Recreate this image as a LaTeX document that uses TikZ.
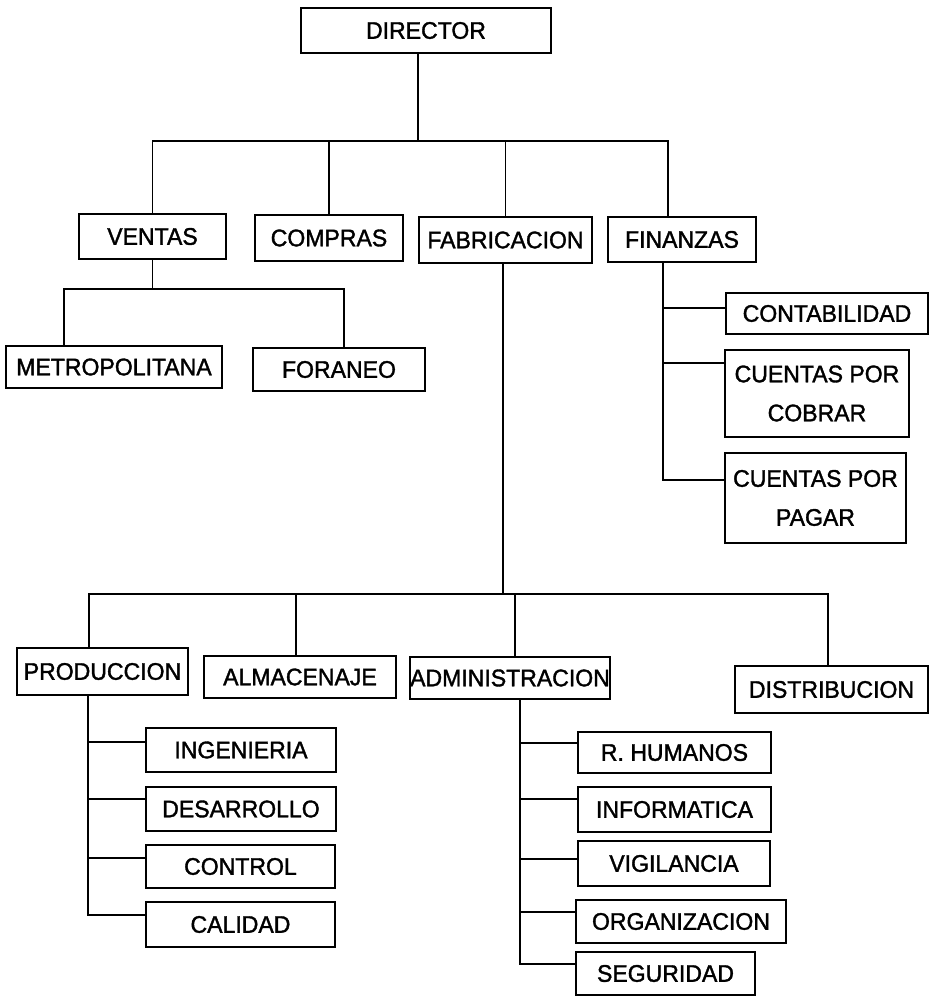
\documentclass[tikz,border=0pt]{standalone}
\usepackage{fontspec}
\setmainfont[FakeBold=1.5,FakeStretch=0.96]{Liberation Sans}
\begin{document}
\begin{tikzpicture}[x=1pt,y=-1pt,
  box/.style={draw,line width=1.8pt,inner sep=0pt,align=center,font=\fontsize{24}{27}\selectfont},
  conn/.style={line width=1.5pt}]
\useasboundingbox (0,0) rectangle (929,997);
% level 0/1
\node[box,minimum width=250pt,minimum height=45pt] (dir) at (426,30.5) {DIRECTOR};
\node[box,minimum width=147pt,minimum height=45pt] (ventas) at (152.5,236.5) {VENTAS};
\node[box,minimum width=148pt,minimum height=46pt] (compras) at (329,238) {COMPRAS};
\node[box,minimum width=173pt,minimum height=46pt] (fab) at (505.5,240) {FABRICACION};
\node[box,minimum width=148pt,minimum height=45pt] (fin) at (682,239.5) {FINANZAS};
% ventas
\node[box,minimum width=216pt,minimum height=42pt] (metro) at (114,367) {METROPOLITANA};
\node[box,minimum width=172pt,minimum height=43pt] (foraneo) at (339,369.5) {FORANEO};
% finanzas
\node[box,minimum width=202pt,minimum height=41pt] (conta) at (827,313.5) {CONTABILIDAD};
\node[box,minimum width=184pt,minimum height=87pt] (cobrar) at (817,393.5) {CUENTAS POR\\[12pt]COBRAR};
\node[box,minimum width=181pt,minimum height=90pt] (pagar) at (815.5,498) {CUENTAS POR\\[12pt]PAGAR};
% fabricacion
\node[box,minimum width=171pt,minimum height=47pt] (prod) at (102.5,671.5) {PRODUCCION};
\node[box,minimum width=192pt,minimum height=42pt] (alma) at (300,677) {ALMACENAJE};
\node[box,minimum width=200pt,minimum height=42pt] (admin) at (510,678) {ADMINISTRACION};
\node[box,minimum width=193pt,minimum height=47pt] (distr) at (831.5,689.5) {DISTRIBUCION};
% produccion
\node[box,minimum width=190pt,minimum height=44pt] (ing) at (241,750) {INGENIERIA};
\node[box,minimum width=190pt,minimum height=44pt] (des) at (241,809) {DESARROLLO};
\node[box,minimum width=189pt,minimum height=43pt] (con) at (240.5,866.5) {CONTROL};
\node[box,minimum width=189pt,minimum height=45pt] (cal) at (240.5,924.5) {CALIDAD};
% administracion
\node[box,minimum width=193pt,minimum height=41pt] (rh) at (674.5,752.5) {R. HUMANOS};
\node[box,minimum width=193pt,minimum height=45pt] (inf) at (674.5,809.5) {INFORMATICA};
\node[box,minimum width=192pt,minimum height=45pt] (vig) at (674,863.5) {VIGILANCIA};
\node[box,minimum width=210pt,minimum height=43pt] (org) at (681,921.5) {ORGANIZACION};
\node[box,minimum width=179pt,minimum height=43pt] (seg) at (665.5,973.5) {SEGURIDAD};
% junction coordinates
\coordinate (j1) at (418,141);
\coordinate (finx) at (668,141);
\coordinate (mx) at (64,289);
\coordinate (fx) at (344,289);
\coordinate (fz) at (663,480);
\coordinate (fc1) at (663,308);
\coordinate (fc2) at (663,363);
\coordinate (j2) at (503,594);
\coordinate (px) at (89,594);
\coordinate (ax) at (296,594);
\coordinate (adx) at (515,594);
\coordinate (dx) at (828,594);
\coordinate (pz) at (88,915);
\coordinate (p1) at (88,742);
\coordinate (p2) at (88,799);
\coordinate (p3) at (88,858);
\coordinate (az) at (520,964);
\coordinate (a1) at (520,743);
\coordinate (a2) at (520,799);
\coordinate (a3) at (520,859);
\coordinate (a4) at (520,912);
% connectors level 1
\draw[conn] (j1 |- dir.south) -- (j1);
\draw[conn] (ventas.north) -- (ventas.north |- j1) -- (finx) -- (finx |- fin.north);
\draw[conn] (compras.north) -- (compras.north |- j1);
\draw[conn] (fab.north) -- (fab.north |- j1);
% ventas
\draw[conn] (ventas.south) -- (ventas.south |- mx);
\draw[conn] (mx |- metro.north) -- (mx) -- (fx) -- (fx |- foraneo.north);
% finanzas
\draw[conn] (fz |- fin.south) -- (fz) -- (fz -| pagar.west);
\draw[conn] (fc1) -- (fc1 -| conta.west);
\draw[conn] (fc2) -- (fc2 -| cobrar.west);
% fabricacion
\draw[conn] (j2 |- fab.south) -- (j2);
\draw[conn] (px |- prod.north) -- (px) -- (dx) -- (dx |- distr.north);
\draw[conn] (ax) -- (ax |- alma.north);
\draw[conn] (adx) -- (adx |- admin.north);
% produccion
\draw[conn] (pz |- prod.south) -- (pz) -- (pz -| cal.west);
\draw[conn] (p1) -- (p1 -| ing.west);
\draw[conn] (p2) -- (p2 -| des.west);
\draw[conn] (p3) -- (p3 -| con.west);
% administracion
\draw[conn] (az |- admin.south) -- (az) -- (az -| seg.west);
\draw[conn] (a1) -- (a1 -| rh.west);
\draw[conn] (a2) -- (a2 -| inf.west);
\draw[conn] (a3) -- (a3 -| vig.west);
\draw[conn] (a4) -- (a4 -| org.west);
\end{tikzpicture}
\end{document}
